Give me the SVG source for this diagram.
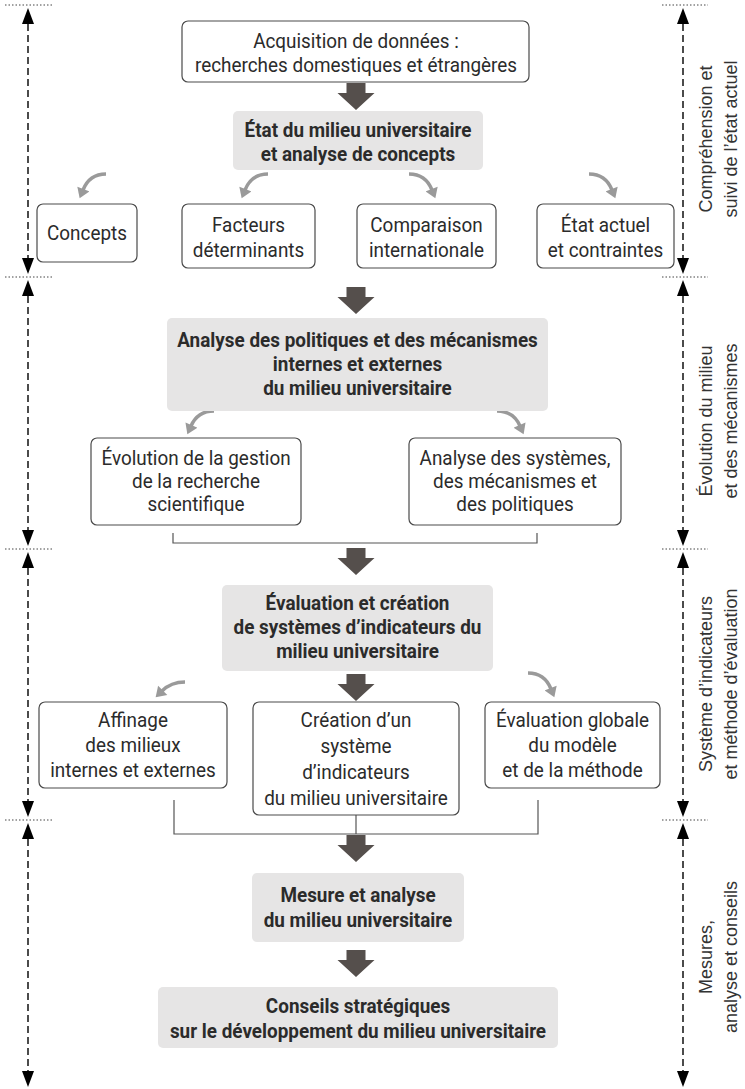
<svg xmlns="http://www.w3.org/2000/svg" width="745" height="1089" viewBox="0 0 745 1089">
<style>
.box{fill:#fff;stroke:#4a4a4a;stroke-width:1.2}
.gbox{fill:#e6e5e5}
.t{font-family:Roboto,"Noto Sans",sans-serif;font-size:21px;fill:#2b2b2b;text-anchor:middle}
.b{font-weight:bold}
.side{font-family:"Liberation Sans",Arial,sans-serif;font-size:18px;fill:#333;text-anchor:middle}
.curve{fill:none;stroke:#9a9a9a;stroke-width:3.5;marker-end:url(#ch)}
.brk{fill:none;stroke:#555;stroke-width:1.2}
.dash{stroke:#111;stroke-width:1.5;stroke-dasharray:7 4}
.dot{stroke:#444;stroke-width:1;stroke-dasharray:1.5 2}
.ah{fill:#000}
.big{fill:#554f4c}
</style>
<defs>
<marker id="ch" viewBox="0 0 10 13" refX="1" refY="6.5" markerWidth="11" markerHeight="13" markerUnits="userSpaceOnUse" orient="auto">
<path d="M0,0 L10,6.5 L0,13 z" fill="#9a9a9a"/>
</marker>
<path id="bigarrow" d="M-9.5,0 H9.5 V10 H18.5 L0,27 L-18.5,10 H-9.5 Z"/>
</defs>

<g id="scale-left">
<line class="dot" x1="5" y1="5" x2="52" y2="5"/>
<line class="dot" x1="5" y1="277" x2="52" y2="277"/>
<line class="dot" x1="5" y1="549" x2="52" y2="549"/>
<line class="dot" x1="5" y1="820" x2="52" y2="820"/>
<line class="dash" x1="28" y1="24" x2="28" y2="258"/>
<line class="dash" x1="28" y1="296" x2="28" y2="530"/>
<line class="dash" x1="28" y1="568" x2="28" y2="801"/>
<line class="dash" x1="28" y1="839" x2="28" y2="1071"/>
<polygon class="ah" points="28,8 34,24 22,24"/>
<polygon class="ah" points="28,274 34,258 22,258"/>
<polygon class="ah" points="28,280 34,296 22,296"/>
<polygon class="ah" points="28,546 34,530 22,530"/>
<polygon class="ah" points="28,552 34,568 22,568"/>
<polygon class="ah" points="28,817 34,801 22,801"/>
<polygon class="ah" points="28,823 34,839 22,839"/>
<polygon class="ah" points="28,1087 34,1071 22,1071"/>
</g>

<g id="scale-right">
<line class="dot" x1="662" y1="5" x2="708" y2="5"/>
<line class="dot" x1="662" y1="277" x2="708" y2="277"/>
<line class="dot" x1="662" y1="549" x2="708" y2="549"/>
<line class="dot" x1="662" y1="820" x2="708" y2="820"/>
<line class="dash" x1="683" y1="24" x2="683" y2="258"/>
<line class="dash" x1="683" y1="296" x2="683" y2="530"/>
<line class="dash" x1="683" y1="568" x2="683" y2="801"/>
<line class="dash" x1="683" y1="839" x2="683" y2="1071"/>
<polygon class="ah" points="683,8 689,24 677,24"/>
<polygon class="ah" points="683,274 689,258 677,258"/>
<polygon class="ah" points="683,280 689,296 677,296"/>
<polygon class="ah" points="683,546 689,530 677,530"/>
<polygon class="ah" points="683,552 689,568 677,568"/>
<polygon class="ah" points="683,817 689,801 677,801"/>
<polygon class="ah" points="683,823 689,839 677,839"/>
<polygon class="ah" points="683,1087 689,1071 677,1071"/>
</g>

<g id="labels-right">
<text class="side" transform="translate(712,139) rotate(-90)">Compréhension et</text>
<text class="side" transform="translate(737,139) rotate(-90)">suivi de l’état actuel</text>
<text class="side" transform="translate(712,421) rotate(-90)">Évolution du milieu</text>
<text class="side" transform="translate(737,421) rotate(-90)">et des mécanismes</text>
<text class="side" transform="translate(712,684) rotate(-90)">Système d’indicateurs</text>
<text class="side" transform="translate(737,684) rotate(-90)">et méthode d’évaluation</text>
<text class="side" transform="translate(712,957) rotate(-90)">Mesures,</text>
<text class="side" transform="translate(737,957) rotate(-90)">analyse et conseils</text>
</g>

<g id="connectors">
<use href="#bigarrow" class="big" x="356" y="83"/>
<use href="#bigarrow" class="big" x="356" y="287"/>
<use href="#bigarrow" class="big" x="356" y="548"/>
<use href="#bigarrow" class="big" x="356" y="674"/>
<use href="#bigarrow" class="big" x="356" y="835"/>
<use href="#bigarrow" class="big" x="356" y="950"/>
<path class="curve" d="M106,174 C95,174 87,180 83,190"/>
<path class="curve" d="M268,174 C257,174 249,180 245,190"/>
<path class="curve" d="M409,174 C420,174 428,180 432,190"/>
<path class="curve" d="M589,174 C600,174 608,180 612,190"/>
<path class="curve" d="M214,411 C203,411 195,417 191,426"/>
<path class="curve" d="M497,411 C508,411 516,417 520,426"/>
<path class="curve" d="M185,682 C175,682 167,686 162,691"/>
<path class="curve" d="M528,673 C539,673 547,679 551,689"/>
<path class="brk" d="M173,533 V543 H537 V533"/>
<path class="brk" d="M174,800 V834 H538 V800"/>
<path class="brk" d="M356,815 V834"/>
</g>

<g id="n-acquisition">
<rect class="box" x="182" y="21" width="347" height="61" rx="6"/>
<text class="t" transform="translate(356,48) scale(0.9,1)">Acquisition de données :</text>
<text class="t" transform="translate(356,72) scale(0.9,1)">recherches domestiques et étrangères</text>
</g>

<g id="n-etat">
<rect class="gbox" x="233" y="111" width="250" height="59" rx="5"/>
<text class="t b" transform="translate(358,137) scale(0.9,1)">État du milieu universitaire</text>
<text class="t b" transform="translate(358,161) scale(0.9,1)">et analyse de concepts</text>
</g>

<g id="n-concepts">
<rect class="box" x="37" y="204" width="100" height="58" rx="6"/>
<text class="t" transform="translate(87,240) scale(0.9,1)">Concepts</text>
</g>

<g id="n-facteurs">
<rect class="box" x="182" y="204" width="133" height="64" rx="6"/>
<text class="t" transform="translate(248.5,232) scale(0.9,1)">Facteurs</text>
<text class="t" transform="translate(248.5,257) scale(0.9,1)">déterminants</text>
</g>

<g id="n-comparaison">
<rect class="box" x="357" y="204" width="139" height="64" rx="6"/>
<text class="t" transform="translate(426.5,232) scale(0.9,1)">Comparaison</text>
<text class="t" transform="translate(426.5,257) scale(0.9,1)">internationale</text>
</g>

<g id="n-etatactuel">
<rect class="box" x="537" y="204" width="137" height="64" rx="6"/>
<text class="t" transform="translate(605.5,232) scale(0.9,1)">État actuel</text>
<text class="t" transform="translate(605.5,257) scale(0.9,1)">et contraintes</text>
</g>

<g id="n-analyse">
<rect class="gbox" x="167" y="318" width="381" height="93" rx="5"/>
<text class="t b" transform="translate(357.5,347) scale(0.9,1)">Analyse des politiques et des mécanismes</text>
<text class="t b" transform="translate(357.5,371) scale(0.9,1)">internes et externes</text>
<text class="t b" transform="translate(357.5,395) scale(0.9,1)">du milieu universitaire</text>
</g>

<g id="n-evolution">
<rect class="box" x="91" y="438" width="210" height="87" rx="6"/>
<text class="t" transform="translate(196,465) scale(0.9,1)">Évolution de la gestion</text>
<text class="t" transform="translate(196,488) scale(0.9,1)">de la recherche</text>
<text class="t" transform="translate(196,511) scale(0.9,1)">scientifique</text>
</g>

<g id="n-systemes">
<rect class="box" x="409" y="438" width="212" height="87" rx="6"/>
<text class="t" transform="translate(515,465) scale(0.9,1)">Analyse des systèmes,</text>
<text class="t" transform="translate(515,488) scale(0.9,1)">des mécanismes et</text>
<text class="t" transform="translate(515,511) scale(0.9,1)">des politiques</text>
</g>

<g id="n-evaluation">
<rect class="gbox" x="222" y="585" width="271" height="86" rx="5"/>
<text class="t b" transform="translate(357.5,610) scale(0.9,1)">Évaluation et création</text>
<text class="t b" transform="translate(357.5,634) scale(0.9,1)">de systèmes d’indicateurs du</text>
<text class="t b" transform="translate(357.5,658) scale(0.9,1)">milieu universitaire</text>
</g>

<g id="n-affinage">
<rect class="box" x="39" y="702" width="188" height="86" rx="6"/>
<text class="t" transform="translate(133,727) scale(0.9,1)">Affinage</text>
<text class="t" transform="translate(133,752) scale(0.9,1)">des milieux</text>
<text class="t" transform="translate(133,777) scale(0.9,1)">internes et externes</text>
</g>

<g id="n-creation">
<rect class="box" x="253" y="702" width="206" height="113" rx="6"/>
<text class="t" transform="translate(356,727) scale(0.9,1)">Création d’un</text>
<text class="t" transform="translate(356,753) scale(0.9,1)">système</text>
<text class="t" transform="translate(356,779) scale(0.9,1)">d’indicateurs</text>
<text class="t" transform="translate(356,805) scale(0.9,1)">du milieu universitaire</text>
</g>

<g id="n-globale">
<rect class="box" x="485" y="702" width="175" height="86" rx="6"/>
<text class="t" transform="translate(572.5,727) scale(0.9,1)">Évaluation globale</text>
<text class="t" transform="translate(572.5,752) scale(0.9,1)">du modèle</text>
<text class="t" transform="translate(572.5,777) scale(0.9,1)">et de la méthode</text>
</g>

<g id="n-mesure">
<rect class="gbox" x="252" y="873" width="212" height="69" rx="5"/>
<text class="t b" transform="translate(358,902) scale(0.9,1)">Mesure et analyse</text>
<text class="t b" transform="translate(358,927) scale(0.9,1)">du milieu universitaire</text>
</g>

<g id="n-conseils">
<rect class="gbox" x="158" y="987" width="400" height="61" rx="5"/>
<text class="t b" transform="translate(358,1013) scale(0.9,1)">Conseils stratégiques</text>
<text class="t b" transform="translate(358,1038) scale(0.9,1)">sur le développement du milieu universitaire</text>
</g>
</svg>
